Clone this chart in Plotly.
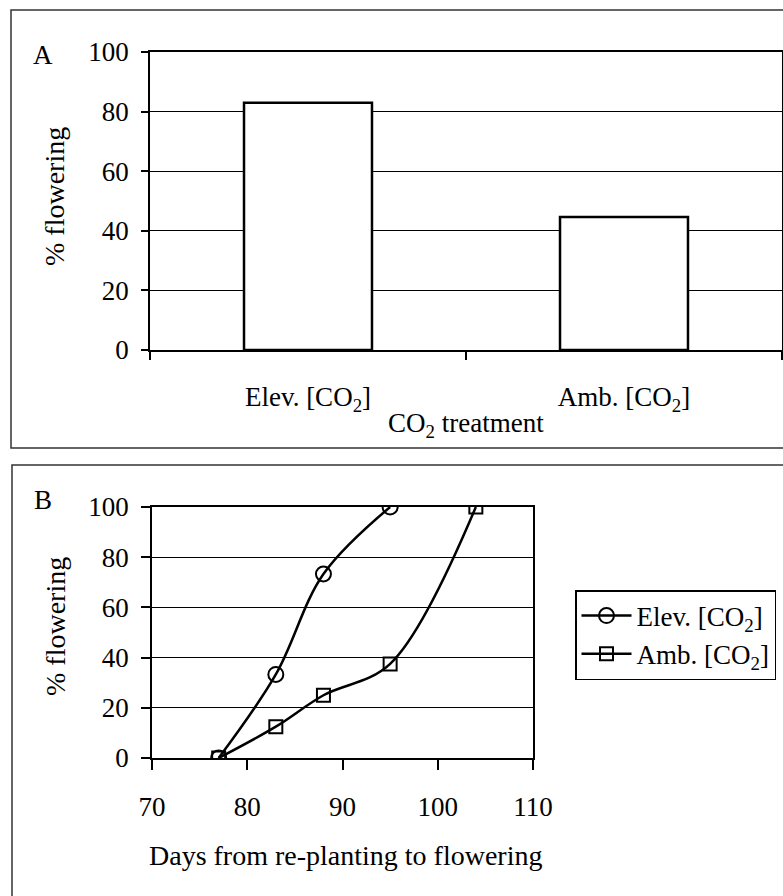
import plotly.graph_objects as go

W, H = 783, 896
FONT = "Liberation Serif"

# ---- data ----
treatments = ["Elev. [CO<sub>2</sub>]", "Amb. [CO<sub>2</sub>]"]
pct_flowering = [83, 44.6]

elev_days = [77, 83, 88, 95]
elev_pct = [0, 33.3, 73.3, 100]
amb_days = [77, 83, 88, 95, 104]
amb_pct = [0, 12.5, 25, 37.5, 100]

y_ticks = [0, 20, 40, 60, 80, 100]
x_ticks_b = [70, 80, 90, 100, 110]


def px_x(p):
    return p / W


def px_y(p):
    return 1 - p / H


fig = go.Figure()

fig.add_trace(go.Bar(
    x=treatments, y=pct_flowering, xaxis="x", yaxis="y",
    marker=dict(color="white", line=dict(color="black", width=2.5)),
    showlegend=False, width=0.405,
))

fig.add_trace(go.Scatter(
    x=elev_days, y=elev_pct, xaxis="x2", yaxis="y2",
    name="Elev. [CO<sub>2</sub>]", mode="lines+markers",
    line=dict(color="black", width=2.5, shape="spline", smoothing=1.0),
    marker=dict(symbol="circle-open", size=15, color="black", line=dict(width=2)),
))
fig.add_trace(go.Scatter(
    x=amb_days, y=amb_pct, xaxis="x2", yaxis="y2",
    name="Amb. [CO<sub>2</sub>]", mode="lines+markers",
    line=dict(color="black", width=2.5, shape="spline", smoothing=1.0),
    marker=dict(symbol="square-open", size=13, color="black", line=dict(width=2)),
))

tickfont = dict(family=FONT, size=27, color="black")


def label(text, x, y, size=27, angle=0):
    return dict(text=text, x=px_x(x), y=px_y(y), xref="paper", yref="paper",
                xanchor="center", yanchor="middle", textangle=angle,
                showarrow=False, font=dict(family=FONT, size=size, color="black"))


fig.update_layout(
    template="none",
    width=W, height=H,
    margin=dict(l=0, r=0, t=0, b=0, pad=0),
    paper_bgcolor="white", plot_bgcolor="white",
    font=dict(family=FONT, color="black"),
    xaxis=dict(
        domain=[px_x(150), px_x(782)], anchor="y", automargin=False,
        type="category", tickson="boundaries",
        showline=True, linecolor="black", linewidth=1.5, mirror=True,
        ticks="outside", ticklen=8, tickcolor="black", tickwidth=1.5,
        tickfont=tickfont, ticklabelstandoff=22,
        showgrid=False, fixedrange=True,
    ),
    yaxis=dict(
        domain=[px_y(350), px_y(52)], anchor="x", automargin=False,
        range=[0, 100], tickvals=y_ticks,
        showline=True, linecolor="black", linewidth=1.5, mirror=True,
        ticks="outside", ticklen=7, tickcolor="black", tickwidth=1.5,
        tickfont=tickfont, ticklabelstandoff=7,
        showgrid=True, gridcolor="black", gridwidth=1.2,
        zeroline=False,
    ),
    xaxis2=dict(
        domain=[px_x(152), px_x(533)], anchor="y2", automargin=False,
        range=[70, 110], tickvals=x_ticks_b,
        showline=True, linecolor="black", linewidth=1.5, mirror=True,
        ticks="outside", ticklen=10, tickcolor="black", tickwidth=1.5,
        tickfont=tickfont, ticklabelstandoff=14,
        showgrid=False, zeroline=False,
    ),
    yaxis2=dict(
        domain=[px_y(758), px_y(507)], anchor="x2", automargin=False,
        range=[0, 100], tickvals=y_ticks,
        showline=True, linecolor="black", linewidth=1.5, mirror=True,
        ticks="outside", ticklen=9, tickcolor="black", tickwidth=1.5,
        tickfont=tickfont, ticklabelstandoff=7,
        showgrid=True, gridcolor="black", gridwidth=1.2,
        zeroline=False,
    ),
    legend=dict(
        x=px_x(575), y=px_y(590), xanchor="left", yanchor="top",
        bordercolor="black", borderwidth=1.5, bgcolor="white",
        font=dict(family=FONT, size=27, color="black"),
        itemwidth=50,
    ),
    shapes=[
        dict(type="rect", xref="paper", yref="paper",
             x0=px_x(11), x1=1.02, y0=px_y(448), y1=px_y(10),
             line=dict(color="#333", width=1.5)),
        dict(type="rect", xref="paper", yref="paper",
             x0=px_x(12), x1=1.02, y0=-0.02, y1=px_y(465),
             line=dict(color="#333", width=1.5)),
    ],
    annotations=[
        label("A", 43, 55),
        label("B", 43, 500),
        label("% flowering", 55, 197, size=28, angle=-90),
        label("% flowering", 55, 627, size=28, angle=-90),
        label("CO<sub>2</sub> treatment", 466, 425),
        label("Days from re-planting to flowering", 345, 855, size=28),
    ],
)

fig.write_html("out.html")
